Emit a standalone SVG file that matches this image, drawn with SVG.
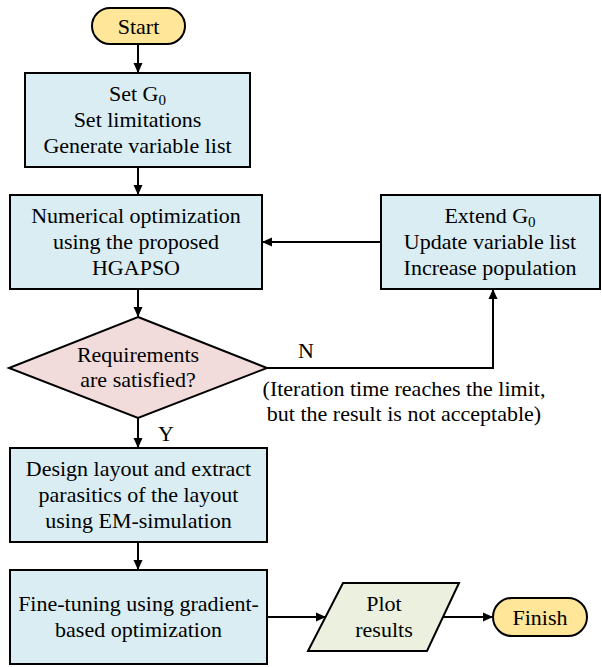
<svg xmlns="http://www.w3.org/2000/svg" width="602" height="667" viewBox="0 0 602 667">
<defs>
<marker id="ah" markerWidth="10" markerHeight="10" refX="9" refY="5" orient="auto" markerUnits="userSpaceOnUse">
<path d="M0,0.5 L10,5 L0,9.5 Z" fill="#000"/>
</marker>
<style>
.box{fill:#DAEDF3;stroke:#000;stroke-width:2}
.dec{fill:#F2DCDB;stroke:#000;stroke-width:2}
.term{fill:#FFE699;stroke:#000;stroke-width:2}
.io{fill:#EBF1DE;stroke:#000;stroke-width:2}
text{font-family:"Liberation Serif","Times New Roman",serif;font-size:22px;fill:#000;text-anchor:middle}
.sub{font-size:15px}
.c{fill:none;stroke:#000;stroke-width:2;marker-end:url(#ah)}
</style>
</defs>
<rect width="602" height="667" fill="#fff"/>
<g id="start">
<rect class="term" x="92" y="8" width="93" height="36" rx="18"/>
<text x="138.5" y="34">Start</text>
</g>
<g id="setg0">
<rect class="box" x="25" y="73" width="225" height="94"/>
<text x="137.5" y="101">Set G<tspan class="sub" dy="4">0</tspan></text>
<text x="137.5" y="127">Set limitations</text>
<text x="137.5" y="153">Generate variable list</text>
</g>
<g id="numopt">
<rect class="box" x="10" y="195" width="252" height="94"/>
<text x="136" y="223">Numerical optimization</text>
<text x="136" y="249">using the proposed</text>
<text x="136" y="275">HGAPSO</text>
</g>
<g id="extend">
<rect class="box" x="381" y="195" width="219" height="94"/>
<text x="490" y="223">Extend G<tspan class="sub" dy="4">0</tspan></text>
<text x="490" y="249">Update variable list</text>
<text x="490" y="275">Increase population</text>
</g>
<g id="decision">
<polygon class="dec" points="138,317 267,368 138,418 9,368"/>
<text x="138" y="362">Requirements</text>
<text x="138" y="387">are satisfied?</text>
</g>
<g id="design">
<rect class="box" x="10" y="448" width="257" height="94"/>
<text x="138.5" y="476">Design layout and extract</text>
<text x="138.5" y="502">parasitics of the layout</text>
<text x="138.5" y="528">using EM-simulation</text>
</g>
<g id="finetune">
<rect class="box" x="10" y="570" width="257" height="94"/>
<text x="138.5" y="611">Fine-tuning using gradient-</text>
<text x="138.5" y="637">based optimization</text>
</g>
<g id="plot">
<polygon class="io" points="343,583 459,583 427,651 308,651"/>
<text x="384" y="611">Plot</text>
<text x="384" y="637">results</text>
</g>
<g id="finish">
<rect class="term" x="493" y="598" width="94" height="38" rx="19"/>
<text x="540" y="625">Finish</text>
</g>
<g id="connectors">
<line class="c" x1="138" y1="44" x2="138" y2="72"/>
<line class="c" x1="138" y1="167" x2="138" y2="194"/>
<line class="c" x1="138" y1="289" x2="138" y2="316"/>
<line class="c" x1="381" y1="242" x2="263" y2="242"/>
<polyline class="c" points="267,368 493,368 493,290"/>
<line class="c" x1="138" y1="418" x2="138" y2="447"/>
<line class="c" x1="138" y1="542" x2="138" y2="569"/>
<line class="c" x1="267" y1="617" x2="325" y2="617"/>
<line class="c" x1="443" y1="617" x2="492" y2="617"/>
<text x="306" y="358">N</text>
<text x="166" y="441">Y</text>
<text x="404" y="396">(Iteration time reaches the limit,</text>
<text x="404" y="421">but the result is not acceptable)</text>
</g>
</svg>
